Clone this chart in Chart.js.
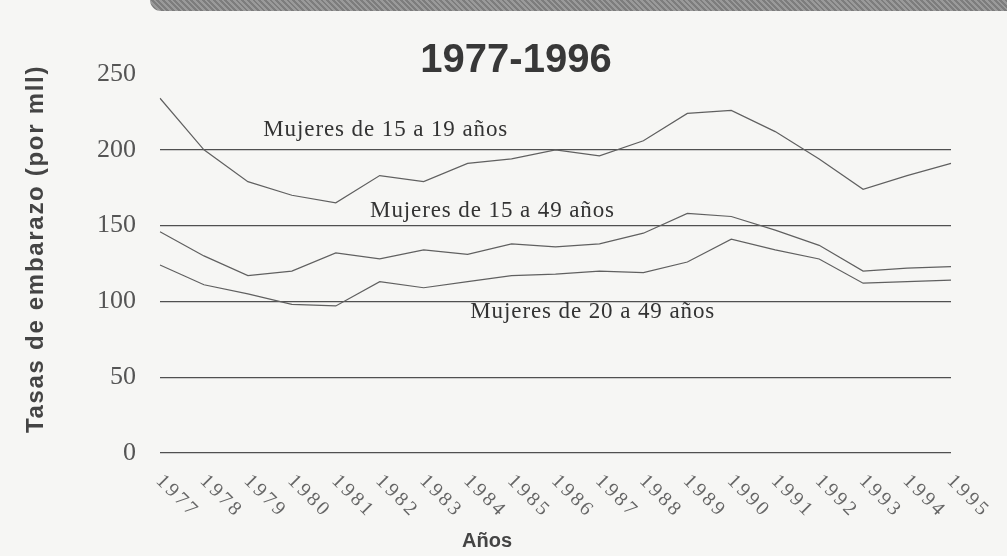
<!DOCTYPE html>
<html lang="es">
<head>
<meta charset="utf-8">
<title>Tasas de embarazo 1977-1996</title>
<script src="https://cdn.jsdelivr.net/npm/chart.js@4.4.1/dist/chart.umd.min.js"></script>
<style>
    html, body { margin: 0; padding: 0; background: #f6f6f4; }
    #wrap { position: relative; width: 1007px; height: 556px; overflow: hidden; }
    #band {
        position: absolute; top: 0; left: 150px; right: 0; height: 11px;
        background: repeating-linear-gradient(45deg, #7d7d7d 0 2px, #9a9a9a 2px 4px);
        border-bottom-left-radius: 14px;
    }
    canvas { position: absolute; top: 0; left: 0; }
</style>
</head>
<body>
<div id="wrap">
    <div id="band"></div>
    <canvas id="chart" width="1007" height="556"></canvas>
</div>
<script>
// years on the x axis (the chart stops at 1995)
const years = ["1977", "1978", "1979", "1980", "1981", "1982", "1983", "1984", "1985", "1986",
    "1987", "1988", "1989", "1990", "1991", "1992", "1993", "1994", "1995"];

// pregnancy rates per thousand
const mujeres15a19 = [234, 200, 179, 170, 165, 183, 179, 191, 194, 200,
    196, 206, 224, 226, 212, 194, 174, 183, 191];
const mujeres15a49 = [146, 130, 117, 120, 132, 128, 134, 131, 138, 136,
    138, 145, 158, 156, 147, 137, 120, 122, 123];
const mujeres20a49 = [124, 111, 105, 98, 97, 113, 109, 113, 117, 118,
    120, 119, 126, 141, 134, 128, 112, 113, 114];

const yTicks = [0, 50, 100, 150, 200, 250];

// series names written inside the plot (x = year index, y = rate)
const seriesLabels = [
    { text: "Mujeres de 15 a 19 años", x: 2.35, y: 209 },
    { text: "Mujeres de 15 a 49 años", x: 4.78, y: 156 },
    { text: "Mujeres de 20 a 49 años", x: 7.06, y: 89 }
];

const chartTitle = "1977-1996";
const yTitle = "Tasas de embarazo (por mll)";
const xTitle = "Años";

const lineColor = "#606060";
const serif = "'Liberation Serif', 'Times New Roman', serif";
const sans = "'Liberation Sans', Arial, sans-serif";

// extra text: title, axis titles, slanted year labels, series names
const textPlugin = {
    id: "textPlugin",
    afterDraw(chart) {
        const c = chart.ctx;
        const xs = chart.scales.x;
        const ys = chart.scales.y;

        c.save();
        c.fillStyle = "#383838";
        c.font = "bold 40px " + sans;
        c.textAlign = "center";
        c.textBaseline = "alphabetic";
        c.fillText(chartTitle, 516, 72);

        // y axis title
        c.save();
        c.translate(36, 249);
        c.rotate(-Math.PI / 2);
        c.font = "bold 24px " + sans;
        c.letterSpacing = "1.7px";
        c.fillStyle = "#444";
        c.textBaseline = "middle";
        c.fillText(yTitle, 0, 0);
        c.restore();

        // year labels, slanted downwards
        c.font = "20px " + serif;
        c.letterSpacing = "3px";
        c.fillStyle = "#666";
        c.textAlign = "left";
        c.textBaseline = "middle";
        years.forEach((y, i) => {
            const px = xs.getPixelForValue(i);
            c.save();
            c.translate(px - 1, 478);
            c.rotate(Math.PI / 4);
            c.fillText(y, 0, 0);
            c.restore();
        });

        c.letterSpacing = "0px";
        c.font = "bold 20px " + sans;
        c.fillStyle = "#444";
        c.textAlign = "center";
        c.fillText(xTitle, 487, 541);

        // series names
        c.font = "23px " + serif;
        c.letterSpacing = "0.9px";
        c.fillStyle = "#333";
        c.textAlign = "left";
        c.textBaseline = "alphabetic";
        seriesLabels.forEach(l => {
            c.fillText(l.text, xs.getPixelForValue(l.x), ys.getPixelForValue(l.y));
        });
        c.restore();
    }
};

function makeSeries(label, values) {
    return {
        label: label,
        data: values,
        borderColor: lineColor,
        borderWidth: 1.2,
        pointRadius: 0,
        tension: 0,
        fill: false
    };
}

const ctx = document.getElementById("chart").getContext("2d");

new Chart(ctx, {
    type: "line",
    data: {
        labels: years,
        datasets: [
            makeSeries(seriesLabels[0].text, mujeres15a19),
            makeSeries(seriesLabels[1].text, mujeres15a49),
            makeSeries(seriesLabels[2].text, mujeres20a49)
        ]
    },
    options: {
        responsive: false,
        animation: false,
        devicePixelRatio: 1,
        layout: { padding: { top: 74, right: 56, left: 0, bottom: 0 } },
        plugins: {
            legend: { display: false },
            tooltip: { enabled: false }
        },
        scales: {
            x: {
                offset: false,
                grid: { display: false },
                border: { display: false },
                ticks: { display: false },
                afterFit: s => { s.height = 103; }
            },
            y: {
                min: 0,
                max: 250,
                afterBuildTicks: s => { s.ticks = yTicks.map(v => ({ value: v })); },
                afterFit: s => { s.width = 160; },
                border: { display: false },
                grid: {
                    drawTicks: false,
                    lineWidth: 1.2,
                    color: c => c.tick && c.tick.value === 250 ? "rgba(0,0,0,0)" : "#505050"
                },
                ticks: {
                    padding: 24,
                    color: "#555",
                    font: { family: serif, size: 26 }
                }
            }
        }
    },
    plugins: [textPlugin]
});
</script>
</body>
</html>
